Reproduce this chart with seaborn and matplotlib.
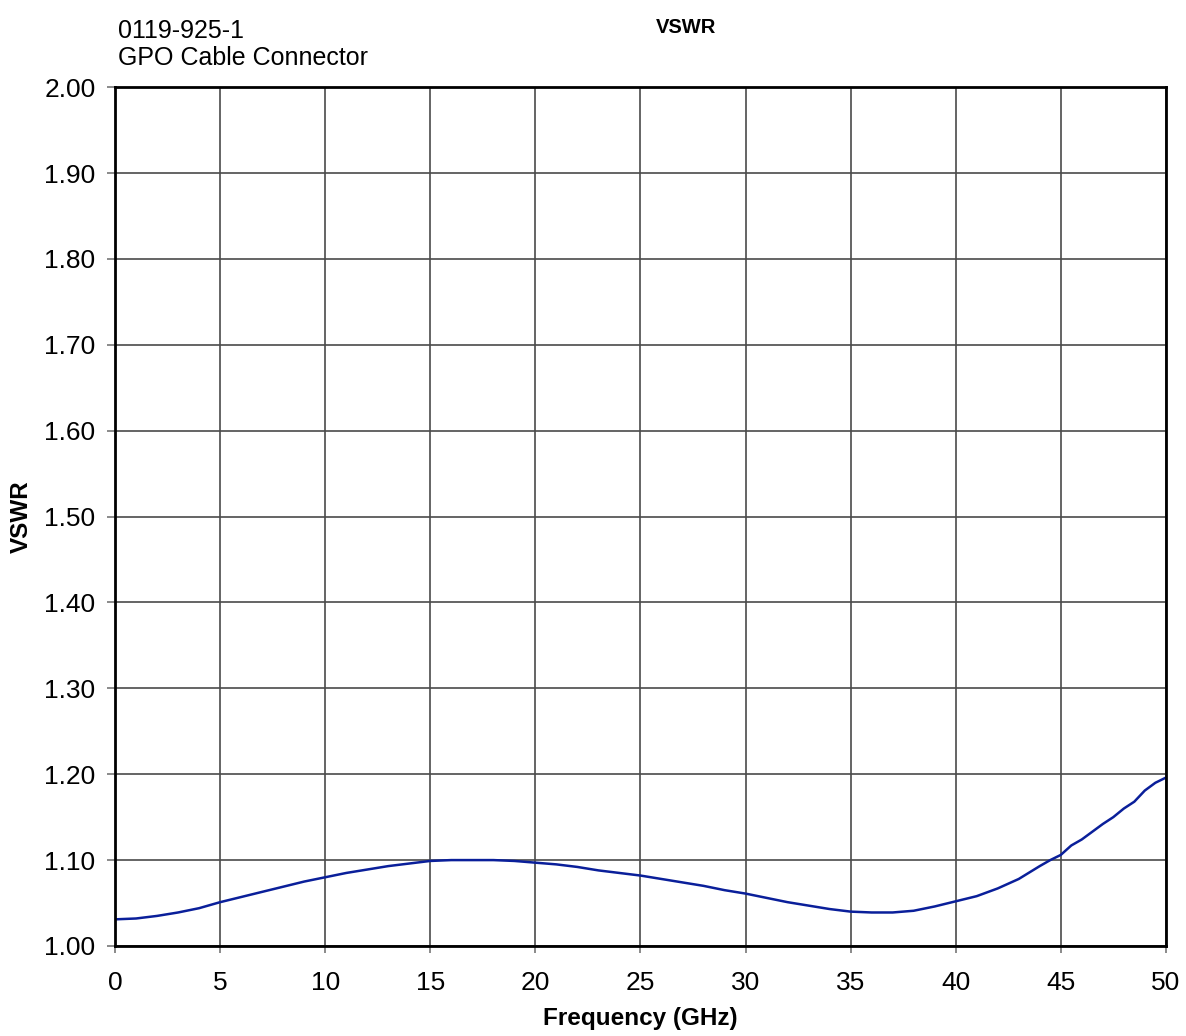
import seaborn as sns
import matplotlib
matplotlib.use('Agg')
import matplotlib.pyplot as plt
import pandas as pd

# Valeurs
freq = [0, 1, 2, 3, 4, 5, 6, 7, 8, 9, 10, 11, 12, 13, 14, 15, 16, 17, 18, 19,
        20, 21, 22, 23, 24, 25, 26, 27, 28, 29, 30, 31, 32, 33, 34, 35, 36, 37,
        38, 39, 40, 41, 42, 43, 44, 44.5, 45, 45.5, 46, 46.5, 47, 47.5, 48,
        48.5, 49, 49.5, 50]
vswr = [1.031, 1.032, 1.035, 1.039, 1.044, 1.051, 1.057, 1.063, 1.069, 1.075,
        1.080, 1.085, 1.089, 1.093, 1.096, 1.099, 1.100, 1.100, 1.100, 1.099,
        1.097, 1.095, 1.092, 1.088, 1.085, 1.082, 1.078, 1.074, 1.070, 1.065,
        1.061, 1.056, 1.051, 1.047, 1.043, 1.040, 1.039, 1.039, 1.041, 1.046,
        1.052, 1.058, 1.067, 1.078, 1.093, 1.100, 1.106, 1.117, 1.124, 1.133,
        1.142, 1.150, 1.160, 1.168, 1.181, 1.190, 1.196]

df = pd.DataFrame({'freq': freq, 'vswr': vswr})

sns.set_style('white')
plt.rcParams['font.family'] = ['Liberation Sans', 'DejaVu Sans']
plt.rcParams['text.color'] = 'black'
plt.rcParams['axes.labelcolor'] = 'black'

fig = plt.figure(figsize=(11.86, 10.36), dpi=100)
ax = fig.add_axes([0.097, 0.0869, 0.886, 0.829])

sns.lineplot(data=df, x='freq', y='vswr', ax=ax, color='#0a1f9a', lw=1.8)

ax.set_xlim(0, 50)
ax.set_ylim(1.0, 2.0)
ax.set_xticks(range(0, 51, 5))
ax.set_yticks([1.0 + 0.1 * i for i in range(11)])
ax.set_yticklabels([f'{1.0 + 0.1 * i:.2f}' for i in range(11)])
ax.grid(True, color='#4a4a4a', lw=1.2)
ax.tick_params(axis='x', direction='out', length=5, width=1.2, color='#777777',
               labelcolor='black', labelsize=19, pad=13, bottom=True)
ax.tick_params(axis='y', direction='out', length=6, width=1.2, color='#777777',
               labelcolor='black', labelsize=19, pad=8, left=True)
for s in ax.spines.values():
    s.set_color('black')
    s.set_linewidth(2)

ax.set_xlabel('Frequency (GHz)', fontsize=17.5, fontweight='bold', labelpad=9)
ax.set_ylabel('VSWR', fontsize=17.5, fontweight='bold', labelpad=8)

fig.text(0.5785, 0.973, 'VSWR', fontsize=14.5, fontweight='bold', ha='center', va='center')
fig.text(0.0995, 0.9324, '0119-925-1\nGPO Cable Connector', fontsize=18,
         ha='left', va='bottom', linespacing=1.17)

plt.savefig('out.png', dpi=100)
